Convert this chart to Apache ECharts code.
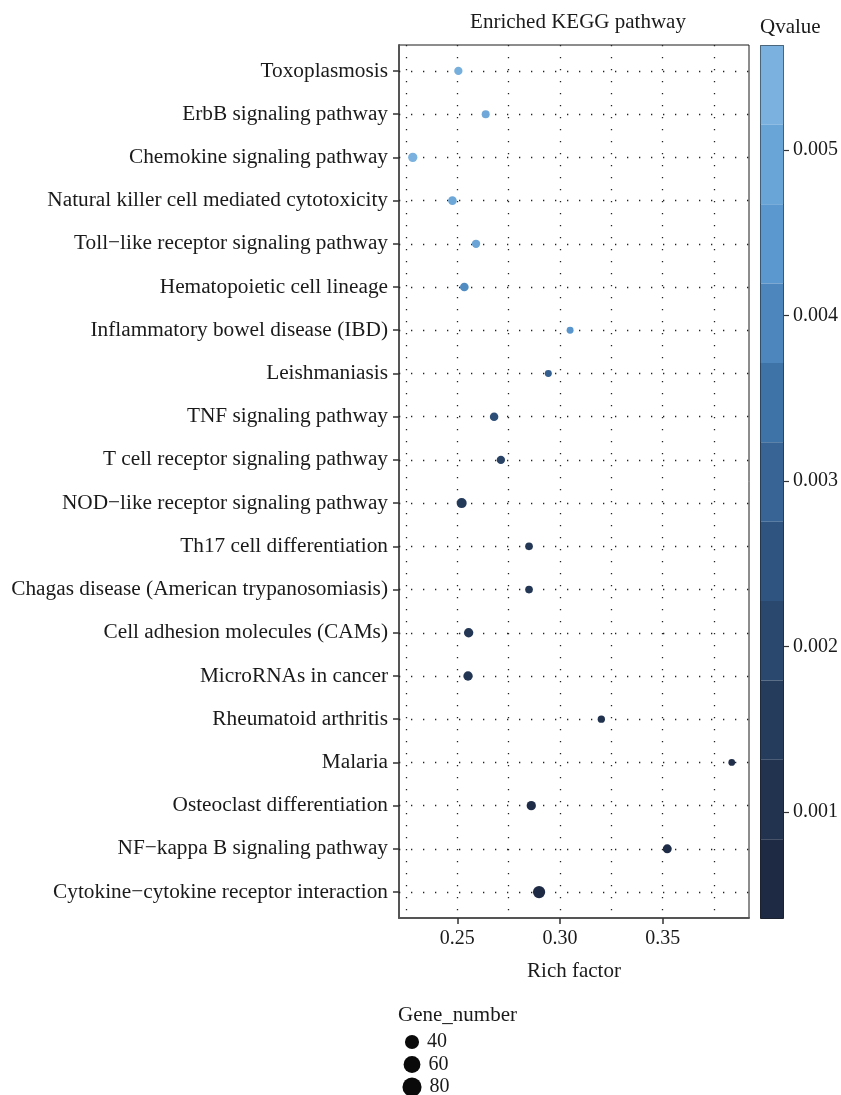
<!DOCTYPE html>
<html><head><meta charset="utf-8">
<script src="https://cdn.jsdelivr.net/npm/echarts@6/dist/echarts.min.js"></script>
<style>html,body{margin:0;padding:0;background:#fff}#c{width:841px;height:1095px}</style>
</head><body><div id="c"></div>
<script>
const categories = [
  'Toxoplasmosis',
  'ErbB signaling pathway',
  'Chemokine signaling pathway',
  'Natural killer cell mediated cytotoxicity',
  'Toll\u2212like receptor signaling pathway',
  'Hematopoietic cell lineage',
  'Inflammatory bowel disease (IBD)',
  'Leishmaniasis',
  'TNF signaling pathway',
  'T cell receptor signaling pathway',
  'NOD\u2212like receptor signaling pathway',
  'Th17 cell differentiation',
  'Chagas disease (American trypanosomiasis)',
  'Cell adhesion molecules (CAMs)',
  'MicroRNAs in cancer',
  'Rheumatoid arthritis',
  'Malaria',
  'Osteoclast differentiation',
  'NF\u2212kappa B signaling pathway',
  'Cytokine\u2212cytokine receptor interaction'
];
const richFactor = [0.2505, 0.2638, 0.2283, 0.2476, 0.2591, 0.2534, 0.3049, 0.2943, 0.2679, 0.2712,
                    0.2521, 0.2849, 0.2849, 0.2555, 0.2552, 0.3201, 0.3836, 0.2860, 0.3522, 0.2898];
const qvalue = [0.0055, 0.0053, 0.00563, 0.0052, 0.0051, 0.0042, 0.0045, 0.0028, 0.0022, 0.0017,
                0.0013, 0.0011, 0.0011, 0.0011, 0.0010, 0.0008, 0.0006, 0.0005, 0.0005, 0.00036];
const geneNumber = [35, 32, 45, 39, 35, 39, 23, 23, 37, 35,
                    54, 29, 29, 46, 46, 26, 21, 45, 42, 85];
const xTicks = [0.25, 0.30, 0.35];
const xGridLines = [0.225, 0.25, 0.275, 0.30, 0.325, 0.35, 0.375];
const qTicks = [0.001, 0.002, 0.003, 0.004, 0.005];
const legendGenes = [40, 60, 80];

const FONT = "'Liberation Serif', 'DejaVu Serif', serif";
const INK = '#1a1a1a';
const X_MIN = 0.2216, X_MAX = 0.392;
const Q_MIN = 0.00036, Q_MAX = 0.005634;
const COLORS = ['#1E2A44', '#253C5C', '#2F5480', '#3E73A8', '#5A98CF', '#7AB1DE'];
const sz = n => 1.21 + 1.2 * Math.sqrt(n);

const yIdx = categories.map((_, i) => i);
const points = categories.map((c, i) => [richFactor[i], i, qvalue[i], geneNumber[i]]);
const dotted = { color: '#222', width: 1.3, type: [1.3, 10.7] };

const legendTop = [1042, 1064.5, 1087];
const legends = legendGenes.map((g, k) => {
  const s = sz(g) * 1.6;
  return {
    data: [{ name: String(g), icon: 'circle' }],
    orient: 'vertical',
    left: 412 - s / 2,
    top: legendTop[k] - 11,
    itemWidth: s, itemHeight: s,
    padding: 0,
    selectedMode: false,
    itemStyle: { opacity: 1 },
    textStyle: { fontSize: 20, fontFamily: FONT, color: INK, lineHeight: 22, padding: [0, 0, 0, 3] }
  };
});

const chart = echarts.init(document.getElementById('c'), null, { renderer: 'canvas' });
chart.setOption({
  animation: false,
  backgroundColor: '#fff',
  grid: [
    { left: 399, top: 45, width: 350, height: 873, show: true, borderColor: INK, borderWidth: 1, backgroundColor: '#fff' },
    { left: 760, top: 45, width: 23, height: 873 }
  ],
  xAxis: [
    {
      gridIndex: 0, type: 'value', min: X_MIN, max: X_MAX,
      axisLine: { show: true, onZero: false, lineStyle: { color: '#555', width: 2 } },
      axisTick: { show: true, customValues: xTicks, length: 6, lineStyle: { color: '#333', width: 1.5 } },
      axisLabel: { customValues: xTicks, formatter: v => v.toFixed(2), margin: 11, fontSize: 20, fontFamily: FONT, color: INK },
      splitLine: { show: false },
      name: 'Rich factor', nameLocation: 'middle', nameGap: 43,
      nameTextStyle: { fontSize: 21, fontFamily: FONT, color: INK }
    },
    { gridIndex: 1, type: 'value', show: false, min: 0, max: 1 }
  ],
  yAxis: [
    {
      gridIndex: 0, type: 'value', inverse: true, min: -0.6, max: 19.6,
      axisLine: { show: true, onZero: false, lineStyle: { color: '#555', width: 2 } },
      axisTick: { show: true, customValues: yIdx, length: 6, lineStyle: { color: '#333', width: 1.5 } },
      axisLabel: { customValues: yIdx, formatter: v => categories[Math.round(v)], margin: 11, fontSize: 21.3, fontFamily: FONT, color: INK },
      splitLine: { show: false }
    },
    {
      gridIndex: 1, type: 'value', min: Q_MIN, max: Q_MAX, position: 'right',
      axisLine: { show: false, onZero: false },
      axisTick: { show: true, customValues: qTicks, length: 6, lineStyle: { color: '#333', width: 1.2 } },
      axisLabel: { customValues: qTicks, formatter: v => v.toFixed(3), margin: 10, fontSize: 20, fontFamily: FONT, color: INK },
      splitLine: { show: false }
    }
  ],
  visualMap: [
    {
      type: 'continuous', show: false, seriesIndex: 0, dimension: 2,
      min: Q_MIN, max: Q_MAX, inRange: { color: COLORS }
    },
    {
      type: 'piecewise', seriesIndex: 2, orient: 'vertical',
      min: Q_MIN, max: Q_MAX, splitNumber: 11,
      left: 760, top: 45, itemWidth: 23, itemHeight: 873 / 11, itemGap: 0,
      itemSymbol: 'rect', showLabel: false, padding: 0,
      borderColor: INK, borderWidth: 1,
      selectedMode: false, hoverLink: false,
      inRange: { color: COLORS }
    }
  ],
  legend: legends,
  graphic: [
    { type: 'text', x: 578, y: 22, style: { text: 'Enriched KEGG pathway', fontSize: 21, fontFamily: FONT, fill: INK, align: 'center', verticalAlign: 'middle', textAlign: 'center', textVerticalAlign: 'middle' } },
    { type: 'text', x: 760, y: 27, style: { text: 'Qvalue', fontSize: 21, fontFamily: FONT, fill: INK, align: 'left', verticalAlign: 'middle', textAlign: 'left', textVerticalAlign: 'middle' } },
    { type: 'text', x: 398, y: 1015, style: { text: 'Gene_number', fontSize: 21, fontFamily: FONT, fill: INK, align: 'left', verticalAlign: 'middle', textAlign: 'left', textVerticalAlign: 'middle' } }
  ],
  series: [
    {
      type: 'scatter', xAxisIndex: 0, yAxisIndex: 0, z: 5,
      data: points,
      encode: { x: 0, y: 1 },
      symbol: 'circle',
      symbolSize: v => sz(v[3]),
      itemStyle: { opacity: 1 }
    },
    {
      type: 'line', xAxisIndex: 0, yAxisIndex: 0, z: 1, data: [], silent: true,
      markLine: {
        silent: true, symbol: ['none', 'none'], label: { show: false }, precision: 6,
        lineStyle: dotted, emphasis: { disabled: true },
        data: xGridLines.map(v => ({ xAxis: v })).concat(yIdx.map(i => ({ yAxis: i })))
      }
    },
    { type: 'scatter', xAxisIndex: 1, yAxisIndex: 1, data: [], silent: true },
    ...legendGenes.map(g => ({ type: 'scatter', name: String(g), xAxisIndex: 0, yAxisIndex: 0, data: [], itemStyle: { color: '#0a0a0a', opacity: 1 } }))
  ]
});
</script>
</body></html>
